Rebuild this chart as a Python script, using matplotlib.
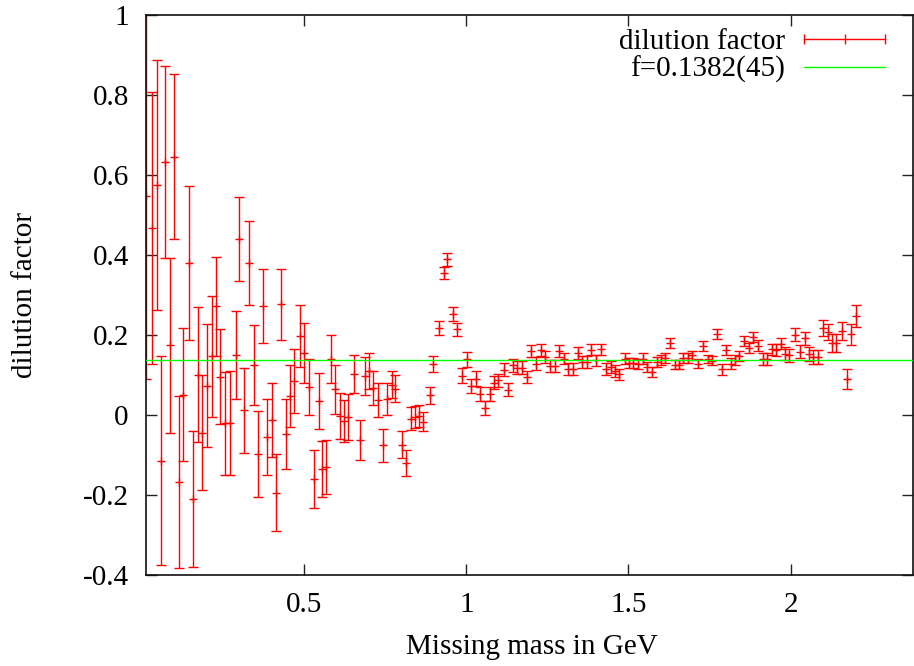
"""
Dilution factor vs missing mass, gnuplot-style errorbar plot with constant fit line.
"""

import matplotlib
matplotlib.use('Agg')
import matplotlib.pyplot as plt
from matplotlib.lines import Line2D
from matplotlib.ticker import FixedLocator, FuncFormatter

# Missing mass bins (GeV)
mass = [0.0135, 0.0322, 0.0464, 0.0597, 0.072, 0.0874, 0.0997, 0.116, 0.128, 0.144,
        0.157, 0.172, 0.185, 0.201, 0.215, 0.23, 0.242, 0.255, 0.271, 0.289,
        0.3, 0.315, 0.329, 0.345, 0.357, 0.374, 0.386, 0.402, 0.415, 0.43,
        0.443, 0.456, 0.468, 0.489, 0.499, 0.514, 0.53, 0.545, 0.556, 0.569,
        0.584, 0.596, 0.612, 0.624, 0.637, 0.655, 0.671, 0.688, 0.699, 0.714,
        0.727, 0.743, 0.756, 0.771, 0.781, 0.802, 0.815, 0.83, 0.841, 0.853,
        0.868, 0.887, 0.899, 0.915, 0.93, 0.942, 0.958, 0.972, 0.987, 1.001,
        1.014, 1.029, 1.043, 1.058, 1.072, 1.086, 1.098, 1.115, 1.128, 1.143,
        1.157, 1.172, 1.188, 1.2, 1.216, 1.23, 1.243, 1.259, 1.272, 1.286,
        1.3, 1.315, 1.329, 1.343, 1.358, 1.371, 1.385, 1.4, 1.415, 1.431,
        1.446, 1.46, 1.472, 1.488, 1.502, 1.515, 1.529, 1.544, 1.558, 1.572,
        1.587, 1.601, 1.613, 1.628, 1.644, 1.656, 1.669, 1.683, 1.695, 1.714,
        1.729, 1.744, 1.757, 1.772, 1.788, 1.8, 1.815, 1.829, 1.842, 1.857,
        1.873, 1.885, 1.9, 1.914, 1.926, 1.942, 1.955, 1.969, 1.983, 1.996,
        2.013, 2.029, 2.044, 2.057, 2.069, 2.085, 2.1, 2.116, 2.128, 2.14,
        2.157, 2.173, 2.186, 2.201]

# Dilution factor values
dilution = [0.547, 0.468, 0.575, -0.114, 0.633, 0.174, 0.646, -0.168, 0.051, 0.38,
            -0.21, 0.101, -0.044, 0.073, 0.147, 0.272, 0.096, -0.021, -0.02, 0.151,
            0.44, 0.012, 0.38, 0.126, -0.098, 0.272, -0.054, -0.012, -0.194, 0.277,
            -0.048, 0.048, 0.084, 0.198, 0.155, 0.07, -0.16, 0.034, -0.135, -0.13,
            0.141, 0.064, -0.002, -0.015, -0.005, 0.103, -0.063, 0.098, 0.11, 0.068,
            0.037, -0.076, 0.04, 0.076, 0.066, -0.074, -0.12, -0.009, -0.005, -0.003,
            -0.017, 0.049, 0.128, 0.218, 0.355, 0.389, 0.252, 0.214, 0.098, 0.139,
            0.073, 0.091, 0.053, 0.018, 0.052, 0.081, 0.087, 0.113, 0.063, 0.124,
            0.118, 0.118, 0.095, 0.16, 0.128, 0.162, 0.145, 0.123, 0.123, 0.16,
            0.141, 0.114, 0.116, 0.155, 0.133, 0.133, 0.163, 0.137, 0.164, 0.114,
            0.12, 0.11, 0.102, 0.141, 0.13, 0.13, 0.127, 0.141, 0.12, 0.108,
            0.133, 0.137, 0.143, 0.18, 0.126, 0.126, 0.143, 0.143, 0.149, 0.128,
            0.172, 0.14, 0.136, 0.203, 0.114, 0.163, 0.128, 0.138, 0.147, 0.185,
            0.168, 0.195, 0.173, 0.141, 0.141, 0.164, 0.162, 0.178, 0.153, 0.149,
            0.201, 0.158, 0.192, 0.152, 0.145, 0.145, 0.218, 0.208, 0.18, 0.18,
            0.21, 0.089, 0.202, 0.248]

# Statistical errors
error = [0.457, 0.34, 0.312, 0.261, 0.24, 0.218, 0.206, 0.215, 0.167, 0.193,
         0.169, 0.168, 0.144, 0.154, 0.151, 0.124, 0.119, 0.128, 0.13, 0.11,
         0.104, 0.106, 0.105, 0.1, 0.107, 0.092, 0.095, 0.093, 0.096, 0.089,
         0.088, 0.077, 0.08, 0.077, 0.074, 0.071, 0.072, 0.07, 0.069, 0.067,
         0.06, 0.062, 0.057, 0.053, 0.058, 0.048, 0.05, 0.047, 0.046, 0.043,
         0.042, 0.042, 0.039, 0.033, 0.034, 0.033, 0.033, 0.028, 0.027, 0.027,
         0.024, 0.021, 0.02, 0.018, 0.016, 0.016, 0.017, 0.017, 0.019, 0.019,
         0.018, 0.019, 0.018, 0.018, 0.018, 0.017, 0.016, 0.016, 0.016, 0.016,
         0.016, 0.016, 0.016, 0.015, 0.016, 0.015, 0.015, 0.015, 0.015, 0.015,
         0.014, 0.015, 0.015, 0.015, 0.015, 0.015, 0.014, 0.014, 0.014, 0.015,
         0.014, 0.015, 0.014, 0.014, 0.013, 0.013, 0.013, 0.013, 0.012, 0.012,
         0.012, 0.012, 0.012, 0.013, 0.012, 0.012, 0.012, 0.012, 0.012, 0.011,
         0.012, 0.011, 0.012, 0.012, 0.013, 0.012, 0.014, 0.013, 0.013, 0.013,
         0.013, 0.013, 0.014, 0.015, 0.015, 0.014, 0.015, 0.014, 0.016, 0.016,
         0.016, 0.016, 0.016, 0.017, 0.017, 0.018, 0.02, 0.02, 0.022, 0.022,
         0.022, 0.025, 0.026, 0.028]

fit_value = 0.1382
fit_label = 'f=0.1382(45)'
data_label = 'dilution factor'

x_ticks = [0.5, 1.0, 1.5, 2.0]
y_ticks = [-0.4, -0.2, 0.0, 0.2, 0.4, 0.6, 0.8, 1.0]

plt.rcParams['font.family'] = ['Liberation Serif', 'DejaVu Serif']
plt.rcParams['axes.unicode_minus'] = False
fs = 21

fig = plt.figure(figsize=(9.14, 6.66), dpi=100)
ax = fig.add_axes([145.5 / 914, 1 - 575 / 666, 767.5 / 914, 560 / 666])

red = '#ff0000'
ax.errorbar(mass, dilution, yerr=error, fmt='+', color=red, ecolor=red,
            elinewidth=1.0, capsize=3.5, capthick=1.0, markersize=6,
            markeredgewidth=1.0, zorder=2)
ax.axhline(fit_value, color='#00ff00', linewidth=1.0, zorder=3)

ax.set_xlim(0.0113, 2.377)
ax.set_ylim(-0.4, 1.0)

fmt = FuncFormatter(lambda v, pos: '%g' % round(v, 3))
ax.xaxis.set_major_locator(FixedLocator(x_ticks))
ax.yaxis.set_major_locator(FixedLocator(y_ticks))
ax.xaxis.set_major_formatter(fmt)
ax.yaxis.set_major_formatter(fmt)
ax.tick_params(direction='in', length=8, width=1, top=True, right=True,
               labelsize=fs, pad=12, colors='#222222', labelcolor='black')
for sp in ax.spines.values():
    sp.set_linewidth(1.2)
    sp.set_color('#111111')

ax.set_xlabel('Missing mass in GeV', fontsize=fs)
ax.set_ylabel('dilution factor', fontsize=fs)
ax.xaxis.set_label_coords(0.504, -0.105)
ax.yaxis.set_label_coords(-0.14, 0.5)

handles = [Line2D([], [], color=red, linewidth=1.0, marker='|', markersize=7,
                  markeredgewidth=1.0),
           Line2D([], [], color='#00ff00', linewidth=1.0)]
ax.legend(handles, [data_label, fit_label], loc='upper right',
          bbox_to_anchor=(0.975, 0.975), frameon=False, fontsize=fs,
          markerfirst=False, numpoints=3, handlelength=3.38,
          handletextpad=0.35, labelspacing=0.02, borderpad=0,
          borderaxespad=0)

fig.savefig('out.png', dpi=100)
